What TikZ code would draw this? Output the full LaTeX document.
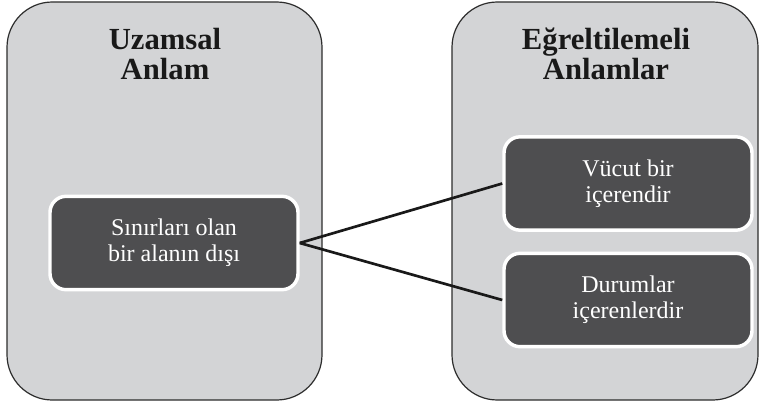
\documentclass[tikz,border=0pt]{standalone}
\usepackage{fontspec}
\setmainfont{Liberation Serif}
\usetikzlibrary{positioning}

\definecolor{panelgray}{RGB}{211,212,214}
\definecolor{boxgray}{RGB}{78,78,80}
\definecolor{edgegray}{RGB}{45,45,45}

\begin{document}
\begin{tikzpicture}[
  x=0.75pt, y=0.75pt,
  panel/.style={draw=edgegray, fill=panelgray, line width=0.9pt, rounded corners=34pt},
  title/.style={align=center, font=\fontsize{23}{22.5}\selectfont\bfseries, text=black!90},
  sensebox/.style={draw=white, line width=2.6pt, fill=boxgray, rounded corners=12pt,
    align=center, text=white, font=\fontsize{18}{19.5}\selectfont,
    minimum width=186pt, minimum height=70pt, inner sep=0pt},
  link/.style={line width=2pt, draw=black!90}
]
\useasboundingbox (0,0) rectangle (760,408);
% two panels
\draw[panel] (7,8) rectangle (322,406);
\draw[panel] (452,8) rectangle (758,406);
\node[title] (spatial) at (165,354) {Uzamsal\\Anlam};
\node[title] (metaphor) at (606,354) {Eğreltilemeli\\Anlamlar};
% senses
\node[sensebox] (outside) at (174,165) {Sınırları olan\\bir alanın dışı};
\node[sensebox] (body) at (628,224.5) {Vücut bir\\içerendir};
\node[sensebox] (states) at (628,108) {Durumlar\\içerenlerdir};
\draw[link] (outside.east) -- (body.west);
\draw[link] (outside.east) -- (states.west);
\end{tikzpicture}
\end{document}
